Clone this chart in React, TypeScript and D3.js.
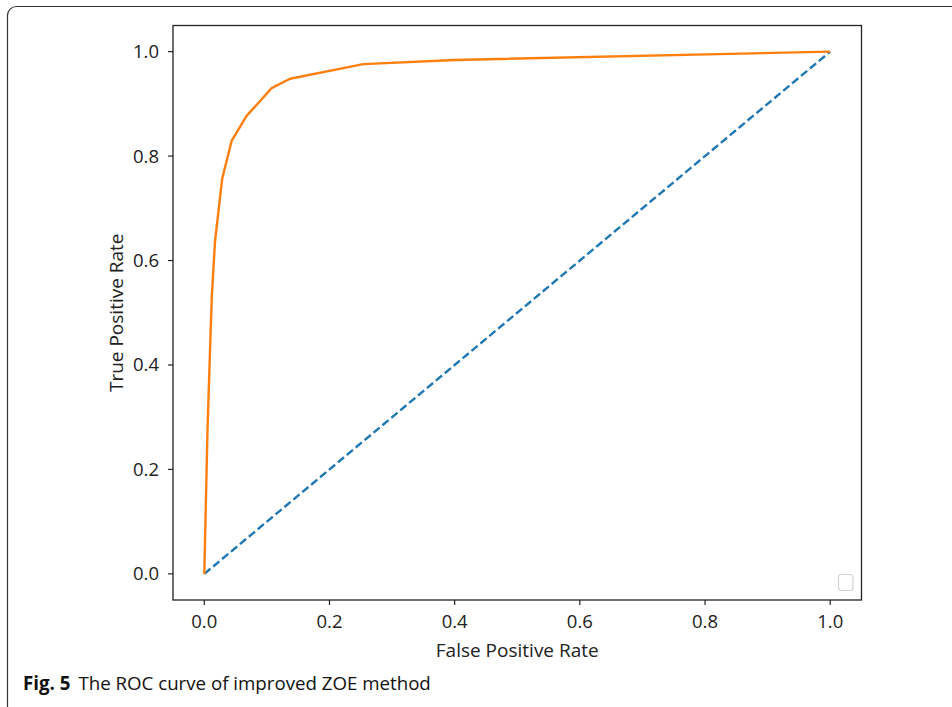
import React from "react";
import * as d3 from "d3";

const rocFpr = [0, 0.005, 0.01, 0.012, 0.017, 0.0285, 0.0436, 0.0676, 0.1076, 0.137, 0.254, 0.4, 1.0];
const rocTpr = [0, 0.27, 0.46, 0.53, 0.635, 0.756, 0.829, 0.877, 0.930, 0.948, 0.976, 0.984, 1.0];
const diagX = [0, 1];
const diagY = [0, 1];
const xTicks = [0, 0.2, 0.4, 0.6, 0.8, 1.0];
const yTicks = [0, 0.2, 0.4, 0.6, 0.8, 1.0];
const xLabel = "False Positive Rate";
const yLabel = "True Positive Rate";
const captionBold = "Fig. 5";
const captionText = "The ROC curve of improved ZOE method";

export default function App() {
  const W = 952, H = 707;
  const left = 173, right = 861.5, top = 25.5, bottom = 600;
  const x = d3.scaleLinear().domain([-0.05, 1.05]).range([left, right]);
  const y = d3.scaleLinear().domain([-0.05, 1.05]).range([bottom, top]);
  const line = d3.line<[number, number]>().x(d => x(d[0])).y(d => y(d[1]));
  const roc: [number, number][] = rocFpr.map((v, i) => [v, rocTpr[i]]);
  const diag: [number, number][] = diagX.map((v, i) => [v, diagY[i]]);
  const font = "'Open Sans', sans-serif";
  const txt = "#222";
  return (
    <svg width={W} height={H} style={{ position: "absolute", left: 0, top: 0, background: "#fff" }}>
      <rect x={7.5} y={6.5} width={980} height={760} rx={9} fill="#fff" stroke="#333" strokeWidth={1.2} />
      <path d={line(diag) || ""} fill="none" stroke="#1f77b4" strokeWidth={2.4} strokeDasharray="8,3.6" />
      <path d={line(roc) || ""} fill="none" stroke="#ff7f0e" strokeWidth={2.4} strokeLinejoin="round" />
      <rect x={left} y={top} width={right - left} height={bottom - top} fill="none" stroke="#222" strokeWidth={1.3} />
      {xTicks.map(t => (
        <g key={"x" + t}>
          <line x1={x(t)} x2={x(t)} y1={bottom} y2={bottom + 5} stroke="#222" strokeWidth={1.2} />
          <text x={x(t)} y={628} textAnchor="middle" fontFamily={font} fontSize={18.5} fill={txt}>{t.toFixed(1)}</text>
        </g>
      ))}
      {yTicks.map(t => (
        <g key={"y" + t}>
          <line x1={left - 5} x2={left} y1={y(t)} y2={y(t)} stroke="#222" strokeWidth={1.2} />
          <text x={159} y={y(t) + 6.5} textAnchor="end" fontFamily={font} fontSize={18.5} fill={txt}>{t.toFixed(1)}</text>
        </g>
      ))}
      <text x={(left + right) / 2} y={656.5} textAnchor="middle" fontFamily={font} fontSize={19} fill={txt}>{xLabel}</text>
      <text transform={`translate(123,${(top + bottom) / 2}) rotate(-90)`} textAnchor="middle" fontFamily={font} fontSize={19} fill={txt}>{yLabel}</text>
      <rect x={838.5} y={574.5} width={14.5} height={16} rx={3} fill="#fff" stroke="#d0d0d0" strokeWidth={1.2} />
      <text x={23} y={690} fontFamily={font} fontSize={18.7} fill="#111">
        <tspan fontWeight="bold">{captionBold}</tspan>
        <tspan dx={8}>{captionText}</tspan>
      </text>
    </svg>
  );
}
